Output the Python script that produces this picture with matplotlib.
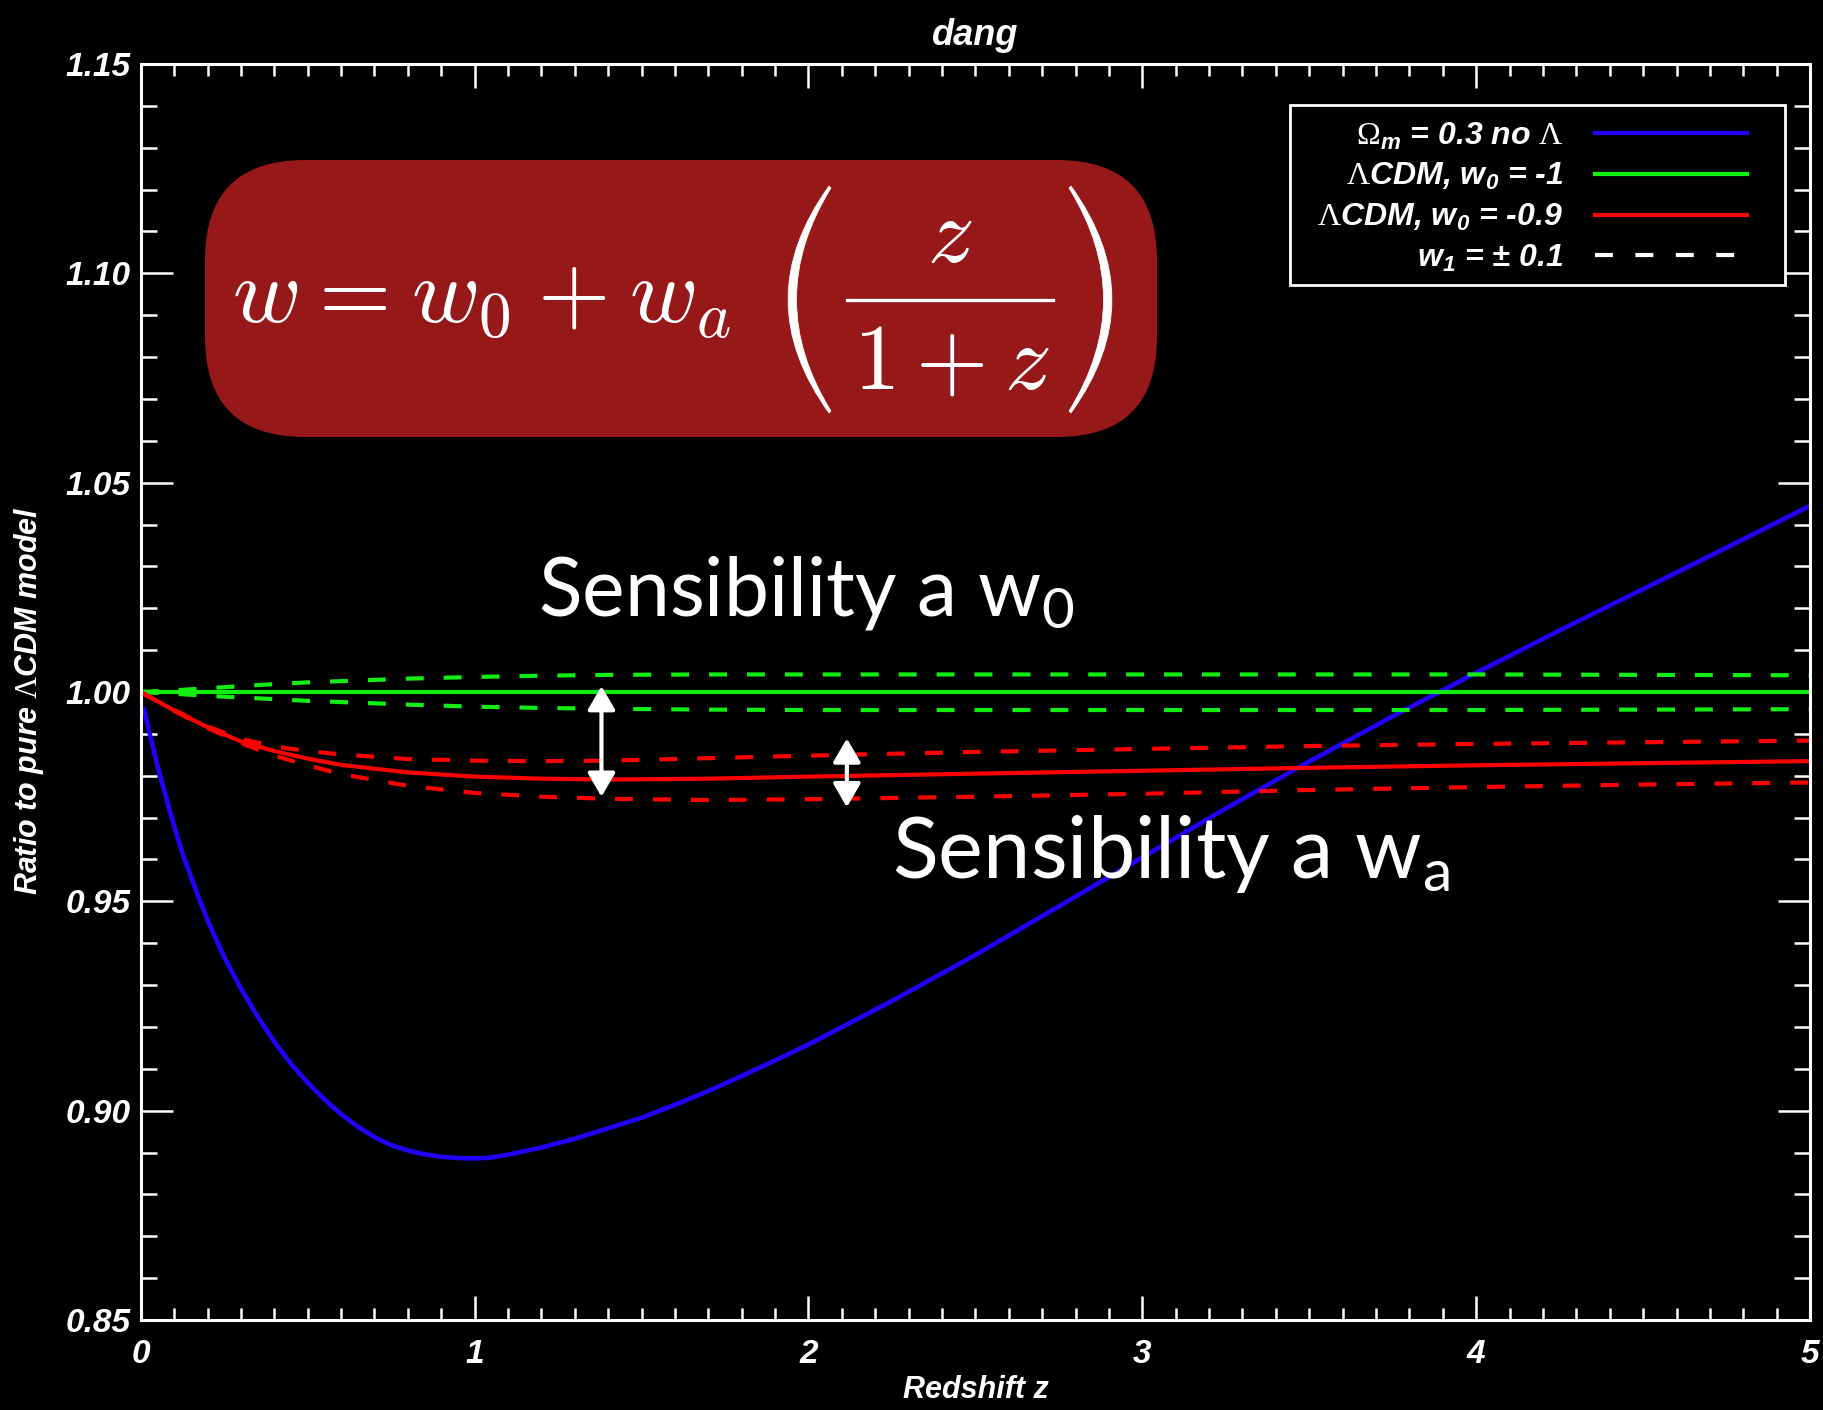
import numpy as np
import matplotlib
matplotlib.use('Agg')
import matplotlib.pyplot as plt
from matplotlib.lines import Line2D
from matplotlib.patches import FancyBboxPatch, PathPatch, Rectangle
from matplotlib.path import Path
from matplotlib.ticker import MultipleLocator, FormatStrFormatter
from matplotlib.transforms import IdentityTransform

# Ratio of angular distance to the pure LCDM model
z_open = [0.01, 0.03, 0.05, 0.075, 0.1, 0.125, 0.15, 0.175, 0.2, 0.25, 0.3, 0.35,
          0.4, 0.45, 0.5, 0.55, 0.6, 0.65, 0.7, 0.75, 0.8, 0.85, 0.9, 0.95, 1.0,
          1.05, 1.1, 1.2, 1.3, 1.4, 1.5, 1.6, 1.7, 1.8, 1.9, 2.0, 2.25, 2.5,
          2.75, 3.0, 3.25, 3.5, 3.75, 4.0, 4.25, 4.5, 4.75, 5.0]
ratio_open = [0.9958, 0.9890, 0.9825, 0.9750, 0.9680, 0.9615, 0.9560, 0.9506,
              0.9455, 0.9367, 0.9292, 0.9225, 0.9165, 0.9112, 0.9067, 0.9027,
              0.8992, 0.8962, 0.8937, 0.8918, 0.8905, 0.8896, 0.8890, 0.8887,
              0.8886, 0.8888, 0.8895, 0.8912, 0.8933, 0.8958, 0.8983, 0.9014,
              0.9047, 0.9083, 0.9120, 0.9158, 0.9262, 0.9372, 0.9488, 0.9605,
              0.9722, 0.9834, 0.9942, 1.0046, 1.0147, 1.0246, 1.0345, 1.0445]

z_lcdm = [0.0, 5.0]
ratio_lcdm = [1.0, 1.0]

z_w = [0.0, 0.1, 0.2, 0.3, 0.4, 0.5, 0.6, 0.8, 1.0, 1.2, 1.4, 1.7, 2.0, 2.5,
       3.0, 3.5, 4.0, 4.5, 5.0]
lcdm_wa_hi = [1.0, 1.0004, 1.0009, 1.0014, 1.0019, 1.0023, 1.0026, 1.0032, 1.0036,
              1.0039, 1.0041, 1.0042, 1.0042, 1.0042, 1.0042, 1.0042, 1.0042,
              1.0041, 1.0040]
lcdm_wa_lo = [1.0, 0.9996, 0.9991, 0.9987, 0.9983, 0.9979, 0.9976, 0.9970, 0.9965,
              0.9962, 0.9960, 0.9958, 0.9957, 0.9957, 0.9957, 0.9957, 0.9957,
              0.9958, 0.9959]
w09 = [1.0, 0.9956, 0.9916, 0.9882, 0.9859, 0.9841, 0.9826, 0.9808, 0.9798, 0.9793,
       0.9791, 0.9793, 0.9798, 0.9805, 0.9812, 0.9819, 0.9825, 0.9830, 0.9835]
w09_wa_hi = [1.0, 0.9957, 0.9918, 0.9888, 0.9870, 0.9859, 0.9851, 0.9840, 0.9836,
             0.9835, 0.9836, 0.9842, 0.9848, 0.9857, 0.9864, 0.9871, 0.9876,
             0.9880, 0.9884]
w09_wa_lo = [1.0, 0.9955, 0.9914, 0.9878, 0.9848, 0.9825, 0.9804, 0.9776, 0.9759,
             0.9750, 0.9745, 0.9742, 0.9744, 0.9750, 0.9757, 0.9766, 0.9773,
             0.9779, 0.9784]

# double arrows marking the w0 and wa spreads
arrow_z = [1.38, 2.115]
arrow_top = [1.0014, 0.9889]
arrow_bottom = [0.9750, 0.9725]

legend_labels = [r'$\Omega_\mathbf{m}$ = 0.3 no $\Lambda$',
                 r'$\Lambda$CDM, w$_\mathbf{0}$ = -1',
                 r'$\Lambda$CDM, w$_\mathbf{0}$ = -0.9',
                 r'w$_\mathbf{1}$ = ± 0.1']

narrow = ['Liberation Sans Narrow', 'Liberation Sans', 'DejaVu Sans']
plt.rcParams['font.family'] = narrow
plt.rcParams['font.weight'] = 'bold'
plt.rcParams['font.style'] = 'italic'
plt.rcParams['mathtext.fontset'] = 'custom'
plt.rcParams['mathtext.rm'] = 'Liberation Serif:style=normal:weight=normal'
plt.rcParams['mathtext.it'] = 'Liberation Sans:style=italic:weight=bold'
plt.rcParams['mathtext.bf'] = 'Liberation Sans:style=italic:weight=bold'

W, H = 1823, 1410
BLUE = '#2200ff'
GREEN = '#11ee11'
RED = '#ff0000'
DASH = (0, (4.3, 4.8))
LW = 3.0
BOLD = dict(color='white', fontweight='bold', fontstyle='italic')


def px(x, y):
    """Pixel position measured from the top-left corner -> display coords."""
    return x, H - y


fig = plt.figure(figsize=(W / 100, H / 100), dpi=100, facecolor='black')
ax = fig.add_axes([0.0772, 0.0638, 0.9157, 0.8908])
ax.set_facecolor('black')

ax.plot(z_open, ratio_open, color=BLUE, lw=LW + 0.3)
ax.plot(z_lcdm, ratio_lcdm, color=GREEN, lw=LW)
ax.plot(z_w, lcdm_wa_hi, color=GREEN, lw=LW, ls=DASH)
ax.plot(z_w, lcdm_wa_lo, color=GREEN, lw=LW, ls=DASH)
ax.plot(z_w, w09, color=RED, lw=LW)
ax.plot(z_w, w09_wa_hi, color=RED, lw=LW, ls=DASH)
ax.plot(z_w, w09_wa_lo, color=RED, lw=LW, ls=DASH)

for z, top, bottom in zip(arrow_z, arrow_top, arrow_bottom):
    ax.annotate('', xy=(z, top), xytext=(z, bottom),
                arrowprops=dict(arrowstyle='<|-|>,head_length=0.72,head_width=0.42',
                                mutation_scale=20, color='white', lw=3,
                                shrinkA=0, shrinkB=0))

ax.set_xlim(0, 5)
ax.set_ylim(0.85, 1.15)
ax.xaxis.set_major_locator(MultipleLocator(1))
ax.xaxis.set_minor_locator(MultipleLocator(0.1))
ax.yaxis.set_major_locator(MultipleLocator(0.05))
ax.yaxis.set_minor_locator(MultipleLocator(0.01))
ax.xaxis.set_major_formatter(FormatStrFormatter('%d'))
ax.yaxis.set_major_formatter(FormatStrFormatter('%.2f'))

for side in ax.spines.values():
    side.set_color('white')
    side.set_linewidth(2.2)
ax.tick_params(which='both', direction='in', top=True, right=True,
               color='white', labelcolor='white', width=1.8, labelsize=24)
ax.tick_params(axis='x', which='major', length=17, pad=14)
ax.tick_params(axis='x', which='minor', length=8.6)
ax.tick_params(axis='y', which='major', length=23, pad=7)
ax.tick_params(axis='y', which='minor', length=11.5)

ax.set_title('dang', fontsize=26, pad=14, **BOLD)
ax.set_xlabel('Redshift z', fontsize=22, **BOLD)
ax.xaxis.set_label_coords(0.5, -0.044)
ax.set_ylabel(r'Ratio to pure $\Lambda$CDM model', fontsize=22, **BOLD)
ax.yaxis.set_label_coords(-0.057, 0.493)

# legend: entries right-aligned with the line samples on the right
handles = [Line2D([], [], color=BLUE, lw=LW),
           Line2D([], [], color=GREEN, lw=LW),
           Line2D([], [], color=RED, lw=LW),
           Line2D([], [], color='white', lw=LW, ls=(0, (4.3, 5.4)))]
ax.add_patch(Rectangle((0.6885, 0.824), 0.2965, 0.1434, transform=ax.transAxes,
                       facecolor='black', edgecolor='white', lw=2, zorder=4))
leg = ax.legend(handles, legend_labels, loc='upper right',
                bbox_to_anchor=(0.9622, 0.955), borderaxespad=0, borderpad=0,
                markerfirst=False, handlelength=4.75, handletextpad=1.0,
                labelspacing=0.3, frameon=False, labelcolor='white',
                prop=dict(family=narrow, weight='bold', style='italic', size=23))
leg.set_zorder(5)

# parametrisation box
fig.patches.append(FancyBboxPatch(px(205, 437), 952, 277,
                                  boxstyle='round,pad=0,rounding_size=100',
                                  transform=IdentityTransform(),
                                  facecolor='#961818', edgecolor='none', zorder=5))
eq = dict(math_fontfamily='cm', color='white', fontsize=67, fontweight='normal',
          fontstyle='normal', transform=IdentityTransform(), zorder=6)
gap = r'\hspace{0.05}'
fig.text(*px(232, 322), '$w' + gap + '=' + gap + 'w_0' + gap + '+' + gap + 'w_a$',
         ha='left', va='baseline', **eq)
fig.text(*px(950, 262), r'$z$', ha='center', va='baseline', **eq)
fig.text(*px(952, 388), r'$1+z$', ha='center', va='baseline', **eq)
fig.add_artist(Line2D([px(847, 300)[0], px(1053, 300)[0]],
                      [px(847, 300)[1], px(1053, 300)[1]],
                      color='white', lw=2.4, transform=IdentityTransform(),
                      zorder=6))


def paren(x_end, x_out, x_in, x_end_in, y_top, y_bot):
    y_mid = (y_top + y_bot) / 2
    verts = [px(x_end, y_top), px(x_out, y_mid), px(x_end, y_bot),
             px(x_end_in, y_bot - 2), px(x_in, y_mid), px(x_end_in, y_top + 2),
             px(x_end, y_top)]
    codes = [Path.MOVETO, Path.CURVE3, Path.CURVE3, Path.LINETO,
             Path.CURVE3, Path.CURVE3, Path.CLOSEPOLY]
    return PathPatch(Path(verts, codes), facecolor='white', edgecolor='white',
                     lw=0.5, transform=IdentityTransform(), zorder=6)


fig.add_artist(paren(829, 747, 762, 831, 186, 413))
fig.add_artist(paren(1071, 1153, 1138, 1069, 186, 413))

gill = dict(family=['Lato', 'DejaVu Sans'], weight='normal', style='normal',
            color='white')
ax.text(1.19, 1.0182, r'Sensibility a w$_\mathregular{0}$', size=58, **gill)
ax.text(2.249, 0.9556, r'Sensibility a w$_\mathregular{a}$', size=61, **gill)

fig.savefig('out.png', dpi=100, facecolor='black')
